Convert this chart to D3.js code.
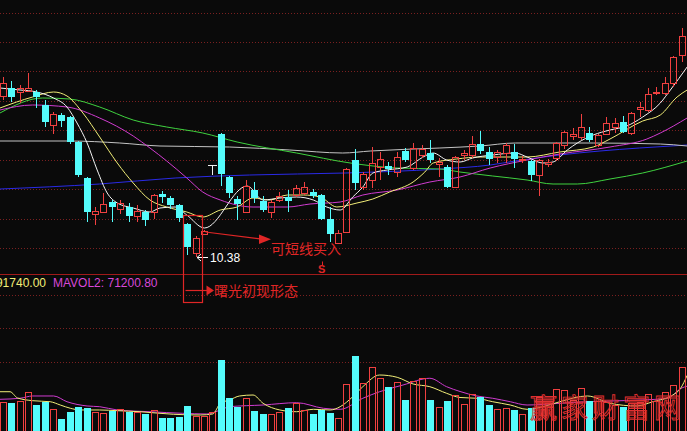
<!DOCTYPE html>
<html><head><meta charset="utf-8">
<script src="https://cdn.jsdelivr.net/npm/d3@7"></script>
<style>html,body{margin:0;padding:0;background:#0a0a0a;overflow:hidden}</style>
</head><body><svg id="c" width="687" height="431"></svg>
<script>
// ---------- DATA ----------
const openP = [13.60,13.76,13.68,13.70,13.68,13.42,13.02,13.22,13.18,12.68,
 11.96,11.24,11.28,11.48,11.34,11.38,11.20,11.28,11.28,11.64,
 11.56,11.42,11.04,10.46,10.84,12.22,12.84,11.98,11.54,11.28,
 11.72,11.50,11.28,11.52,11.58,11.62,11.66,11.68,11.62,11.14,
 10.66,10.88,12.32,11.78,11.92,12.18,12.20,12.08,12.50,12.16,
 12.42,12.46,12.24,12.18,11.78,12.42,12.42,12.64,12.48,12.38,
 12.46,12.48,12.32,12.30,12.02,12.24,12.36,12.62,12.80,12.78,
 12.86,12.62,12.84,12.98,13.08,12.86,13.34,13.32,13.66,13.66,
 13.86,14.42];
const highP = [13.98,13.90,13.82,14.06,13.72,13.52,13.28,13.26,13.20,12.70,
 11.98,11.38,11.66,11.52,11.52,11.46,11.42,11.32,11.64,11.70,
 11.60,11.44,11.06,10.80,10.92,12.22,12.86,12.00,11.60,11.92,
 11.88,11.60,11.52,11.68,11.72,11.82,11.88,11.74,11.64,11.38,
 10.92,12.16,12.54,12.08,12.58,12.48,12.28,12.48,12.56,12.66,
 12.62,12.72,12.36,12.22,12.40,12.52,12.80,12.90,12.58,12.52,
 12.66,12.64,12.40,12.32,12.34,12.34,12.68,12.90,12.96,13.24,
 12.98,12.84,13.18,13.16,13.20,13.28,13.48,13.76,13.78,13.98,
 14.40,14.96];
const lowP = [13.52,13.48,13.46,13.68,13.36,12.98,12.84,12.98,12.64,11.98,
 11.08,11.02,11.26,11.08,11.24,11.08,11.08,11.00,11.14,11.46,
 11.34,11.08,10.42,10.38,10.82,12.02,11.80,11.56,11.12,11.26,
 11.46,11.28,11.16,11.48,11.28,11.58,11.62,11.56,11.12,10.68,
 10.64,10.86,11.72,11.72,11.76,11.92,12.02,11.98,12.28,12.12,
 12.36,12.26,11.98,11.76,11.76,12.32,12.36,12.44,12.22,12.26,
 12.26,12.16,12.26,11.90,11.60,12.18,12.30,12.54,12.72,12.72,
 12.68,12.58,12.82,12.86,12.86,12.82,13.18,13.28,13.62,13.62,
 13.78,14.28];
const closeP = [13.86,13.58,13.76,13.76,13.58,13.08,13.24,13.10,12.68,12.02,
 11.28,11.30,11.44,11.38,11.46,11.20,11.30,11.12,11.62,11.58,
 11.42,11.16,10.58,10.76,10.90,12.22,12.04,11.66,11.44,11.80,
 11.56,11.32,11.48,11.60,11.50,11.76,11.78,11.60,11.14,10.84,
 10.86,12.14,11.86,12.04,12.26,12.34,12.14,12.38,12.32,12.56,
 12.54,12.32,12.28,11.78,12.38,12.46,12.64,12.50,12.34,12.48,
 12.62,12.34,12.34,12.02,12.32,12.28,12.66,12.88,12.84,12.98,
 12.72,12.82,13.06,13.06,12.88,13.26,13.38,13.64,13.68,13.86,
 14.38,14.80];
const volume = [48300,46200,50000,64800,42900,48300,36300,19800,31800,40100,
 38000,31800,30200,33500,35800,31800,31800,27600,34700,21900,
 21900,23600,41300,25200,25200,31800,117200,54000,40100,54000,
 33000,28100,28100,30900,38400,46700,34700,28100,34700,30200,
 21000,77100,123800,78700,106100,87000,73100,80400,51200,82500,
 87000,51200,39100,49500,59400,44600,61100,55600,42900,35800,
 37500,34700,28100,38400,56600,45700,69300,67700,51200,70500,
 49500,50000,47400,42900,40100,45700,48300,60600,50000,64800,
 75900,105100];

// moving averages as [day index, value]
const ma5 = [[-0.4,13.76],[2,13.72],[4,13.68],[6,13.56],[7.6,13.38],[8.8,13.06],[10,12.66],[11.2,12.12],[12.4,11.66],[13.6,11.46],[15.5,11.36],[17.5,11.28],[18.7,11.36],[20.5,11.38],[21.9,11.22],[24,10.96],[29.1,11.80],[31,11.52],[33,11.56],[35,11.58],[37,11.52],[38.6,11.38],[40.2,11.32],[41.7,11.58],[42.9,11.78],[44.1,12.06],[45.8,12.12],[48.2,12.18],[50.1,12.38],[51.3,12.46],[52.9,12.32],[54.5,12.28],[56,12.36],[58.4,12.42],[61.1,12.46],[62.5,12.38],[64.4,12.26],[65.6,12.28],[67.3,12.52],[68.5,12.66],[70.4,12.82],[72.4,12.92],[74.4,13.00],[76.3,13.18],[78.4,13.46],[79.6,13.72],[81.6,14.18]];
const ma10 = [[-0.4,13.36],[3.5,13.58],[6,13.68],[7.6,13.60],[9.5,13.26],[11.5,12.78],[13.6,12.26],[15.5,11.86],[17.5,11.52],[19.5,11.38],[21.9,11.28],[23.8,11.18],[25.9,11.32],[27.9,11.38],[29.8,11.56],[31.8,11.52],[33.9,11.62],[35.8,11.62],[37.8,11.58],[39.8,11.38],[42.2,11.46],[44.1,11.54],[46.1,11.68],[48.9,11.88],[50.3,12.08],[51.3,12.26],[54.1,12.34],[56.9,12.38],[62.5,12.38],[66.4,12.48],[70.4,12.58],[72.4,12.74],[76.3,13.10],[78.4,13.22],[80.4,13.58],[81.6,13.72]];
const ma20 = [[-0.4,13.32],[3.5,13.42],[7.6,13.38],[11.5,13.16],[15.5,12.80],[17.5,12.56],[19.5,12.30],[21.9,11.96],[23.8,11.68],[25.9,11.52],[29.8,11.38],[33.9,11.38],[36.6,11.44],[40.2,11.48],[42.9,11.62],[47,11.72],[50.9,11.88],[54.5,11.98],[58.1,12.16],[62.5,12.32],[66.4,12.44],[72.4,12.58],[76.8,12.74],[78.4,12.86],[81.6,13.16]];
const ma60 = [[-0.4,13.26],[4.7,13.56],[7.9,13.54],[11.5,13.38],[15.5,13.12],[19.5,12.98],[23.8,12.86],[27.9,12.68],[35,12.46],[41.4,12.26],[47,12.16],[52.1,12.14],[54.5,12.08],[58.4,12.00],[62.5,11.92],[65.6,11.84],[68.5,11.84],[72.4,11.94],[76.3,12.06],[81.6,12.30]];
const ma120 = [[-0.4,12.70],[7.9,12.70],[13.9,12.66],[18.7,12.60],[27,12.58],[34.2,12.52],[40.5,12.46],[43.8,12.50],[52.1,12.56],[56.9,12.60],[61.1,12.66],[70.4,12.66],[78.4,12.64],[81.6,12.60]];
const ma250 = [[-0.4,11.74],[11.5,11.84],[20.5,11.96],[29.4,12.02],[40.8,12.06],[52.1,12.14],[58.1,12.22],[61.1,12.30],[66.4,12.42],[71.2,12.50],[75.9,12.56],[81.6,12.62]];
const mavol1 = [[-0.4,64800],[0.8,64800],[1.7,54500],[3.5,50000],[5.6,48300],[6.8,42900],[8,37500],[9.2,34700],[11.5,34700],[13.6,33500],[16.3,31800],[18.7,29200],[20.3,27600],[23.5,26400],[25,28100],[25.9,45700],[27,51200],[28.2,57800],[29.8,59400],[31,45700],[33,34700],[35,31800],[37,35800],[39,34700],[40.2,40100],[41.7,56600],[42.9,73100],[44.9,92400],[47,88600],[48.9,77600],[50.9,73100],[52.9,62200],[54.5,55300],[56.5,54000],[58.4,48300],[60.5,42900],[62.5,35800],[64.4,40100],[66.4,48300],[69.7,57800],[72.4,45700],[75.6,41300],[77.5,48300],[79.9,59400],[80.8,70000],[81.6,91740]];
const mavol2 = [[-0.4,52300],[2,54000],[3.5,57800],[6,57800],[7.6,48300],[10,41300],[11.5,40100],[13.6,34700],[17.5,31800],[21.4,29200],[24.3,28100],[25.9,34700],[27,40100],[31,42900],[35,46700],[38.2,37500],[40.2,35800],[42.9,54000],[44.9,64800],[47.7,75900],[50.9,87000],[52.9,73100],[54.5,65200],[56.5,57800],[58.4,54000],[60.5,48300],[62.5,42900],[66.4,45700],[69.7,48300],[72.4,49500],[76.3,51200],[79.2,54000],[81,71200],[81.6,74000]];

const priceGrid = [15.27,14.68,14.09,13.50,12.91,12.32,11.73,11.14,10.55];
const volGrid = [113400,169500,224400];
const lowLabel = "10.38";
const lowIndex = 23;
const mavolLabels = ["MAVOL1: 91740.00", "MAVOL2: 71200.80"];
const notes = {buy: "可短线买入", pattern: "曙光初现形态", sell: "S", watermark: "赢家财富网"};

// ---------- DRAW ----------
const W = 687, H = 431, N = openP.length;
const RED = "#f04040", CYAN = "#54fcfc", NOTE = "#e02626";
const svg = d3.select("#c");
svg.append("rect").attr("width", W).attr("height", H).attr("fill", "#0a0a0a");

const xc = d3.scaleLinear().domain([0, N - 1]).range([3.3, 682.1]);
const yP = d3.scaleLinear().domain([10.04, 15.52]).range([274, 0]);
const yV = d3.scaleLinear().domain([0, 259050]).range([431, 274]);

const defs = svg.append("defs");
defs.append("clipPath").attr("id", "cp").append("rect").attr("x", 0).attr("y", 0).attr("width", W).attr("height", 274);
defs.append("clipPath").attr("id", "cv").append("rect").attr("x", 0).attr("y", 275).attr("width", W).attr("height", 160);

// grids
const grid = svg.append("g").attr("stroke", "#7a2020").attr("stroke-dasharray", "1,2");
priceGrid.forEach(v => {
  const y = Math.round(yP(v)) + 0.5;
  grid.append("line").attr("x1", 0).attr("x2", W).attr("y1", y).attr("y2", y);
});
volGrid.forEach(v => {
  const y = Math.round(yV(v)) + 0.5;
  grid.append("line").attr("x1", 0).attr("x2", W).attr("y1", y).attr("y2", y);
});

// MA lines
const pl = d3.line().x(d => xc(d[0])).y(d => yP(d[1])).curve(d3.curveMonotoneX);
const vl = d3.line().x(d => xc(d[0])).y(d => yV(d[1])).curve(d3.curveMonotoneX);
const gp = svg.append("g").attr("clip-path", "url(#cp)").attr("fill", "none").attr("stroke-width", 1);
[[ma250, "#2a2ae6"], [ma120, "#c4c4c4"], [ma60, "#3fd23f"], [ma20, "#d03cd0"], [ma10, "#f2ee78"], [ma5, "#f4f4f4"]]
  .forEach(([d, c]) => gp.append("path").attr("d", pl(d)).attr("stroke", c));
const gv = svg.append("g").attr("clip-path", "url(#cv)").attr("fill", "none").attr("stroke-width", 1);
[[mavol2, "#d03cd0"], [mavol1, "#f2ee78"]].forEach(([d, c]) => gv.append("path").attr("d", vl(d)).attr("stroke", c));

// volume bars
const gvb = svg.append("g");
volume.forEach((v, i) => {
  const L = Math.round(xc(i) - 3.5);
  const t = Math.round(yV(v));
  if (closeP[i] < openP[i]) {
    gvb.append("rect").attr("x", L).attr("y", t).attr("width", 7).attr("height", H - t + 2).attr("fill", CYAN);
  } else {
    gvb.append("rect").attr("x", L + 0.5).attr("y", t + 0.5).attr("width", 6).attr("height", H - t + 2)
      .attr("fill", "none").attr("stroke", RED);
  }
});

// candles
const gc = svg.append("g").attr("clip-path", "url(#cp)");
d3.range(N).forEach(i => {
  const o = openP[i], h = highP[i], l = lowP[i], c = closeP[i];
  const L = Math.round(xc(i) - 3.5), mid = L + 3.5;
  const yo = yP(o), yc = yP(c), yh = Math.round(yP(h)), yl = Math.round(yP(l));
  const top = Math.round(Math.min(yo, yc)), bot = Math.round(Math.max(yo, yc));
  if (c > o) {
    gc.append("line").attr("x1", mid).attr("x2", mid).attr("y1", yh).attr("y2", top + 0.5).attr("stroke", RED);
    gc.append("line").attr("x1", mid).attr("x2", mid).attr("y1", bot + 0.5).attr("y2", yl).attr("stroke", RED);
    gc.append("rect").attr("x", L + 0.5).attr("y", top + 0.5).attr("width", 6).attr("height", Math.max(bot - top, 1))
      .attr("fill", "none").attr("stroke", RED);
  } else if (c < o) {
    gc.append("line").attr("x1", mid).attr("x2", mid).attr("y1", yh).attr("y2", yl).attr("stroke", CYAN);
    gc.append("rect").attr("x", L).attr("y", top).attr("width", 7).attr("height", Math.max(bot - top, 1)).attr("fill", CYAN);
  } else {
    gc.append("line").attr("x1", mid).attr("x2", mid).attr("y1", yh).attr("y2", yl).attr("stroke", "#f0f0f0");
    gc.append("line").attr("x1", L - 1).attr("x2", L + 8).attr("y1", top + 0.5).attr("y2", top + 0.5).attr("stroke", "#f0f0f0");
  }
});

// panel divider
svg.append("line").attr("x1", 0).attr("x2", W).attr("y1", 274.5).attr("y2", 274.5).attr("stroke", "#a01a1a");

// low label
const lx = xc(lowIndex), ly = Math.round(yP(lowP[lowIndex])) + 0.5;
const ga = svg.append("g").attr("stroke", "#ffffff").attr("fill", "none");
ga.append("line").attr("x1", lx + 1).attr("x2", lx + 12).attr("y1", ly).attr("y2", ly);
ga.append("path").attr("d", `M${lx + 5},${ly - 3.5}L${lx + 1},${ly}L${lx + 5},${ly + 3.5}`);
svg.append("text").attr("x", lx + 14).attr("y", ly + 4.5).text(lowLabel)
  .attr("fill", "#ffffff").attr("font-family", "Liberation Sans, Arial, sans-serif").attr("font-size", 12);

// buy arrow & text (from candle 24)
const bx = xc(24) + 1, by = yP(closeP[24]) + 1;
svg.append("line").attr("x1", bx).attr("y1", by).attr("x2", 262).attr("y2", 239.2).attr("stroke", NOTE).attr("stroke-width", 1.2);
svg.append("path").attr("d", "M259,234.5L271,239.2L259,244Z").attr("fill", NOTE);
svg.append("text").attr("x", 271).attr("y", 254).text(notes.buy).attr("fill", NOTE)
  .attr("font-family", "Noto Sans CJK SC, sans-serif").attr("font-size", 14);

// pattern box around candles 22-23
const bxL = Math.round(xc(22) - 4.5) + 0.5, bxR = Math.round(xc(23) + 5.5) + 0.5;
svg.append("rect").attr("x", bxL).attr("y", 215.5).attr("width", bxR - bxL).attr("height", 87)
  .attr("fill", "none").attr("stroke", NOTE).attr("stroke-width", 1.2);
svg.append("line").attr("x1", bxL + 2).attr("x2", 208).attr("y1", 290.5).attr("y2", 290.5).attr("stroke", NOTE).attr("stroke-width", 1.2);
svg.append("path").attr("d", "M206.5,285.5L214,290.5L206.5,295.5Z").attr("fill", NOTE);
svg.append("text").attr("x", 214).attr("y", 296).text(notes.pattern).attr("fill", NOTE)
  .attr("font-family", "Noto Sans CJK SC, sans-serif").attr("font-size", 14);

// sell marker
const sx = xc(38);
svg.append("text").attr("x", sx).attr("y", 273).attr("text-anchor", "middle").text(notes.sell)
  .attr("fill", NOTE).attr("font-family", "Liberation Sans, Arial, sans-serif").attr("font-size", 11).attr("font-weight", "bold");
svg.append("line").attr("x1", Math.round(sx) + 0.5).attr("x2", Math.round(sx) + 0.5).attr("y1", 261.5).attr("y2", 265).attr("stroke", NOTE);

// MAVOL labels
svg.append("text").attr("x", 46).attr("y", 287).attr("text-anchor", "end").text(mavolLabels[0])
  .attr("fill", "#f2ee78").attr("font-family", "Liberation Sans, Arial, sans-serif").attr("font-size", 12);
svg.append("text").attr("x", 53).attr("y", 287).text(mavolLabels[1])
  .attr("fill", "#d848d8").attr("font-family", "Liberation Sans, Arial, sans-serif").attr("font-size", 12);

// watermark
svg.append("text").attr("x", 530).attr("y", 418).text(notes.watermark)
  .attr("fill", "none").attr("stroke", "#e03030").attr("stroke-width", 0.9)
  .attr("font-family", "Noto Sans CJK SC, sans-serif").attr("font-size", 27).attr("letter-spacing", 4);
</script></body></html>
